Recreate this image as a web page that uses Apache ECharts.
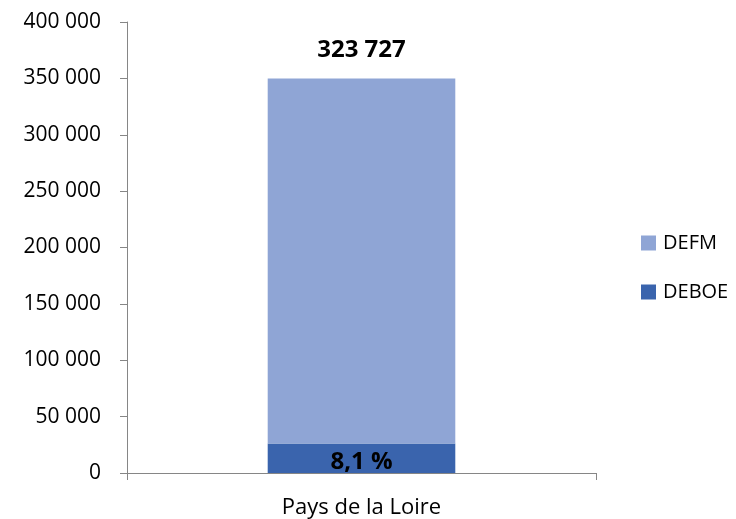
<!DOCTYPE html>
<html>
<head>
<meta charset="utf-8">
<script src="https://cdn.jsdelivr.net/npm/echarts@6/dist/echarts.min.js"></script>
<style>
  html, body { margin: 0; padding: 0; background: #fff; }
  #chart { width: 736px; height: 519px; }
</style>
</head>
<body>
<div id="chart"></div>
<script>
const categories = ['Pays de la Loire']
const defm = [323727]
const deboe = [26222]
const yTicks = [0, 50000, 100000, 150000, 200000, 250000, 300000, 350000, 400000]

const font = "'Open Sans', 'Liberation Sans', sans-serif"
// 323727 -> "323 727"
const spaced = v => String(v).replace(/\B(?=(\d{3})+(?!\d))/g, ' ')

const myChart = echarts.init(document.getElementById('chart'))
myChart.setOption({
  animation: false,
  textStyle: { fontFamily: font },
  grid: { left: 127, right: 140, top: 22, bottom: 46 },
  legend: {
    orient: 'vertical',
    left: 636,
    top: 228,
    itemWidth: 15,
    itemHeight: 15,
    itemGap: 29,
    icon: 'rect',
    textStyle: { fontSize: 20, color: '#000', fontFamily: font, padding: [0, 0, 0, 2] },
    data: ['DEFM', 'DEBOE']
  },
  xAxis: {
    type: 'category',
    data: categories,
    axisLine: { lineStyle: { color: '#868686' } },
    axisTick: { show: true, length: 7, lineStyle: { color: '#868686' } },
    axisLabel: { fontSize: 22, color: '#000', margin: 24 }
  },
  yAxis: {
    type: 'value',
    min: yTicks[0],
    max: yTicks[yTicks.length - 1],
    interval: 50000,
    splitLine: { show: false },
    axisLine: { show: true, lineStyle: { color: '#868686' } },
    axisTick: { show: true, length: 7, lineStyle: { color: '#868686' } },
    axisLabel: { fontSize: 21, color: '#000', margin: 26, formatter: spaced }
  },
  series: [
    {
      name: 'DEBOE',
      type: 'bar',
      stack: 'total',
      barWidth: '40%',
      data: deboe,
      itemStyle: { color: '#3A64AD' },
      label: {
        show: true,
        position: 'inside',
        fontSize: 24,
        fontWeight: 'bold',
        color: '#000',
        offset: [0, 4],
        formatter: p => (p.value / defm[p.dataIndex] * 100).toFixed(1).replace('.', ',') + ' %'
      }
    },
    {
      name: 'DEFM',
      type: 'bar',
      stack: 'total',
      data: defm,
      itemStyle: { color: '#8FA5D5' },
      label: {
        show: true,
        position: 'top',
        distance: 16,
        fontSize: 24,
        fontWeight: 'bold',
        color: '#000',
        formatter: p => spaced(p.value)
      }
    }
  ]
})
</script>
</body>
</html>
